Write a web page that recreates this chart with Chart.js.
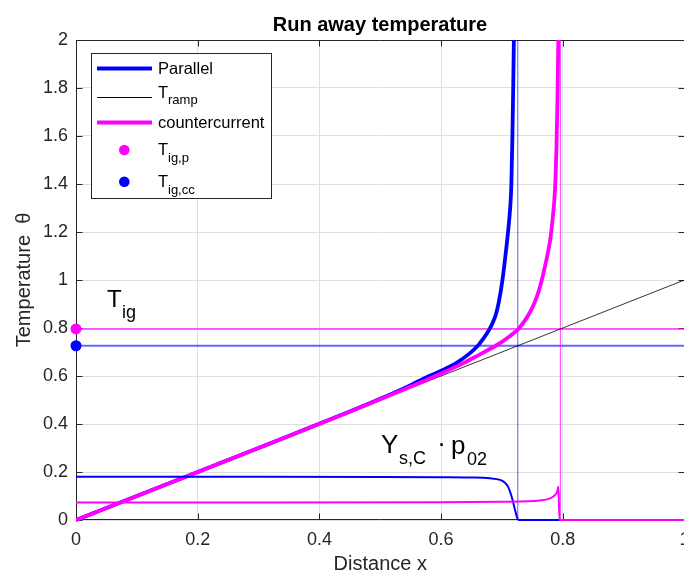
<!DOCTYPE html>
<html>
<head>
<meta charset="utf-8">
<script src="https://cdn.jsdelivr.net/npm/chart.js@4.4.1/dist/chart.umd.min.js"></script>
<style>
    html, body { margin: 0; padding: 0; background: #fff; overflow: hidden; }
    #wrap { position: relative; width: 700px; height: 576px; }
    #overlay { position: absolute; left: 0; top: 0; pointer-events: none;
               font-family: "Liberation Sans", Arial, Helvetica, sans-serif; }
</style>
</head>
<body>
<div id="wrap">
    <canvas id="tempChart" width="700" height="576"></canvas>
    <svg id="overlay" width="700" height="576" xmlns="http://www.w3.org/2000/svg">
        <text x="380" y="30.5" text-anchor="middle" font-size="20" font-weight="bold" fill="#000">Run away temperature</text>

        <!-- legend (needs subscripts, so drawn here) -->
        <rect x="91.5" y="53.5" width="180" height="145" fill="#fff" stroke="#262626" stroke-width="1"/>
        <line x1="97" y1="68.5" x2="152" y2="68.5" stroke="#0000ff" stroke-width="4"/>
        <text x="158" y="74" font-size="16.5" fill="#000">Parallel</text>
        <line x1="97" y1="97.5" x2="152" y2="97.5" stroke="#000" stroke-width="1"/>
        <text x="158" y="97.5" font-size="16.5" fill="#000">T</text>
        <text x="168" y="104" font-size="13" fill="#000">ramp</text>
        <line x1="97" y1="122.5" x2="152" y2="122.5" stroke="#ff00ff" stroke-width="4"/>
        <text x="158" y="128.3" font-size="16.5" fill="#000">countercurrent</text>
        <circle cx="124.3" cy="150" r="5.3" fill="#ff00ff"/>
        <text x="158" y="155" font-size="16.5" fill="#000">T</text>
        <text x="168" y="162" font-size="13" fill="#000">ig,p</text>
        <circle cx="124.3" cy="181.7" r="5.3" fill="#0000ff"/>
        <text x="158" y="186.7" font-size="16.5" fill="#000">T</text>
        <text x="168" y="194" font-size="13" fill="#000">ig,cc</text>

        <!-- annotations -->
        <text x="107" y="307" font-size="24" fill="#000">T</text>
        <text x="122" y="318" font-size="18" fill="#000">ig</text>
        <text x="381" y="453" font-size="26" fill="#000">Y</text>
        <text x="399" y="464" font-size="18" fill="#000">s,C</text>
        <text x="441.5" y="452" font-size="26" text-anchor="middle" fill="#000">·</text>
        <text x="451" y="454" font-size="26" fill="#000">p</text>
        <text x="467" y="465" font-size="18" fill="#000">02</text>
    </svg>
</div>
<script>
// ramp T = x
const rampX = [0, 1];
const rampT = [0, 1];

// parallel flow temperature (blue)
const parallelX = [0, 0.3, 0.45, 0.5, 0.55, 0.568, 0.6, 0.626, 0.645, 0.66, 0.665, 0.67, 0.675, 0.68, 0.685, 0.69, 0.695, 0.7, 0.705, 0.71, 0.7135, 0.7155, 0.7172, 0.7185, 0.7196];
const parallelT = [0, 0.3, 0.452, 0.505, 0.562, 0.585, 0.622, 0.656, 0.69, 0.725, 0.741, 0.758, 0.776, 0.797, 0.823, 0.856, 0.91, 0.985, 1.085, 1.2, 1.3, 1.4, 1.6, 1.8, 2.0];

// countercurrent temperature (magenta)
const ccX = [0, 0.3, 0.45, 0.5, 0.55, 0.58, 0.6, 0.64, 0.66, 0.689, 0.7, 0.71, 0.719, 0.727, 0.74, 0.75, 0.758, 0.765, 0.771, 0.776, 0.78, 0.7835, 0.786, 0.788, 0.7897, 0.7913, 0.7926];
const ccT = [0, 0.3, 0.451, 0.503, 0.556, 0.588, 0.61, 0.658, 0.685, 0.725, 0.742, 0.76, 0.778, 0.796, 0.84, 0.885, 0.935, 0.995, 1.06, 1.12, 1.18, 1.26, 1.33, 1.42, 1.56, 1.76, 2.0];

// Y_s,C * p02 profiles
const ysParX = [0, 0.3, 0.5, 0.6, 0.647, 0.68, 0.697, 0.705, 0.71, 0.716, 0.7215, 0.725, 0.727, 1];
const ysParV = [0.18, 0.18, 0.179, 0.178, 0.177, 0.174, 0.167, 0.155, 0.139, 0.097, 0.042, 0.01, 0, 0];
const ysCcX = [0, 0.3, 0.6, 0.7, 0.7625, 0.779, 0.787, 0.791, 0.7926, 0.7946, 1];
const ysCcV = [0.073, 0.073, 0.074, 0.076, 0.081, 0.09, 0.104, 0.12, 0.139, 0, 0];

// ignition temperatures
const tIgP = 0.796;
const tIgCc = 0.726;

const xTickStep = 0.2;
const yTickStep = 0.2;

const BLUE = '#0000ff';
const MAGENTA = '#ff00ff';
const AXIS = '#262626';

Chart.defaults.font.family = '"Liberation Sans", Arial, Helvetica, sans-serif';

function pts(xs, ys) {
    return xs.map((x, i) => ({ x: x, y: ys[i] }));
}

function fmt(v) {
    return String(Number(v.toFixed(1)));
}

function line(data, color, width, order, extra) {
    return Object.assign({
        data: data,
        showLine: true,
        borderColor: color,
        borderWidth: width,
        pointRadius: 0,
        fill: false,
        tension: 0,
        order: order
    }, extra || {});
}

// box around the axes with inward tick marks
const axesBox = {
    id: 'axesBox',
    beforeDatasetsDraw(chart) {
        const { ctx, chartArea: a, scales: { x, y } } = chart;
        const L = Math.round(a.left) + 0.5, R = Math.round(a.right) - 0.5;
        const T = Math.round(a.top) + 0.5, B = Math.round(a.bottom) - 0.5;
        const len = 6;
        ctx.save();
        ctx.strokeStyle = AXIS;
        ctx.lineWidth = 1;
        ctx.beginPath();
        ctx.rect(L, T, R - L, B - T);
        x.ticks.forEach(t => {
            const px = Math.round(x.getPixelForValue(t.value)) + 0.5;
            ctx.moveTo(px, B); ctx.lineTo(px, B - len);
            ctx.moveTo(px, T); ctx.lineTo(px, T + len);
        });
        y.ticks.forEach(t => {
            const py = Math.round(y.getPixelForValue(t.value)) + 0.5;
            ctx.moveTo(L, py); ctx.lineTo(L + len, py);
            ctx.moveTo(R, py); ctx.lineTo(R - len, py);
        });
        ctx.stroke();
        ctx.restore();
    }
};

// let lines sitting on y = 0 show their full width
const curveClip = { left: 0, top: 0, right: 0, bottom: 2 };

const ctx = document.getElementById('tempChart').getContext('2d');

const chart = new Chart(ctx, {
    type: 'scatter',
    data: {
        datasets: [
            // lower order = drawn on top
            line([{ x: 0, y: tIgP }], MAGENTA, 0, 0, { showLine: false, pointRadius: 5.5, pointBackgroundColor: MAGENTA, pointBorderWidth: 0, clip: false }),
            line([{ x: 0, y: tIgCc }], BLUE, 0, 0, { showLine: false, pointRadius: 5.5, pointBackgroundColor: BLUE, pointBorderWidth: 0, clip: false }),
            line(pts(ysCcX, ysCcV), MAGENTA, 2, 1, { cubicInterpolationMode: 'monotone', clip: curveClip }),
            line(pts(ysParX, ysParV), BLUE, 2, 2, { cubicInterpolationMode: 'monotone', clip: curveClip }),
            line(pts(ccX, ccT), MAGENTA, 3.8, 3, { cubicInterpolationMode: 'monotone', clip: curveClip }),
            line(pts(rampX, rampT), '#000000', 0.8, 4, { clip: curveClip }),
            line(pts(parallelX, parallelT), BLUE, 3.8, 5, { cubicInterpolationMode: 'monotone', clip: curveClip }),
            line([{ x: tIgP, y: 0 }, { x: tIgP, y: 2 }], 'rgba(255,0,255,0.75)', 1, 6),
            line([{ x: tIgCc, y: 0 }, { x: tIgCc, y: 2 }], 'rgba(0,0,255,0.65)', 1, 6),
            line([{ x: 0, y: tIgP }, { x: 1, y: tIgP }], 'rgba(255,0,255,0.6)', 2, 7),
            line([{ x: 0, y: tIgCc }, { x: 1, y: tIgCc }], 'rgba(0,0,255,0.6)', 2, 7)
        ]
    },
    options: {
        responsive: false,
        animation: false,
        layout: { padding: { top: 40, right: 15.5, left: 0, bottom: 0 } },
        plugins: {
            legend: { display: false },
            tooltip: { enabled: false },
            title: { display: false }
        },
        scales: {
            x: {
                type: 'linear',
                min: 0,
                max: 1,
                ticks: { stepSize: xTickStep, color: AXIS, font: { size: 18 }, padding: 9, callback: v => fmt(v) },
                grid: { color: '#dfdfdf', drawTicks: false },
                border: { display: false },
                title: { display: true, text: 'Distance x', color: AXIS, font: { size: 20 }, padding: { top: 0, bottom: 0 } },
                afterFit: s => { s.height = 56; }
            },
            y: {
                type: 'linear',
                min: 0,
                max: 2,
                ticks: { stepSize: yTickStep, color: AXIS, font: { size: 18 }, padding: 8, callback: v => fmt(v) },
                grid: { color: '#dfdfdf', drawTicks: false },
                border: { display: false },
                title: { display: true, text: 'Temperature  θ', color: AXIS, font: { size: 20 }, padding: { top: 12, bottom: 0 } },
                afterFit: s => { s.width = 76; }
            }
        }
    },
    plugins: [axesBox]
});
</script>
</body>
</html>
